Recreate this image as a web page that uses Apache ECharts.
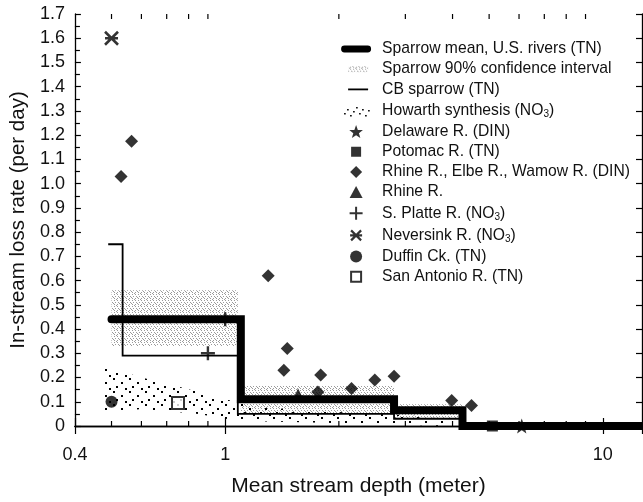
<!DOCTYPE html>
<html>
<head>
<meta charset="utf-8">
<script src="https://cdn.jsdelivr.net/npm/echarts@6/dist/echarts.min.js"></script>
<style>
  html, body { margin: 0; padding: 0; background: #fff; }
  #chart { width: 643px; height: 502px; }
</style>
</head>
<body>
<div id="chart"></div>
<script>
// Axis ranges
const depthMin = 0.4;
const depthMax = 12.7;
const rateMax = 1.7;
const xMinorTicks = [0.5, 0.6, 0.7, 0.8, 0.9, 2, 3, 4, 5, 6, 7, 8, 9];

// SPARROW mean loss rate by depth class (step function corners)
const sparrowDepth = [0.5, 1.1, 1.1, 2.8, 2.8, 4.25, 4.25, 12.7];
const sparrowRate  = [0.44, 0.44, 0.11, 0.11, 0.065, 0.065, 0, 0];

// Chesapeake Bay SPARROW (step function corners)
const cbDepth = [0.49, 0.535, 0.535, 1.08, 1.08, 2.8, 2.8, 4.25, 4.25, 12.7];
const cbRate  = [0.75, 0.75, 0.29, 0.29, 0.05, 0.05, 0.03, 0.03, 0, 0];

// 90% confidence interval of each depth class
const ciFrom = [0.5, 1.1, 2.8];
const ciTo   = [1.08, 2.8, 4.25];
const ciLow  = [0.33, 0.05, 0.03];
const ciHigh = [0.56, 0.165, 0.09];

// Envelope of the Howarth synthesis cloud
const howarthDepth = [0.48, 0.52, 0.6, 0.72, 0.85, 1.0, 1.2, 1.6, 2.2, 3.0, 3.8];
const howarthLow   = [0.05, 0.06, 0.07, 0.06, 0.05, 0.03, 0.02, 0.015, 0.01, 0.005, 0.0];
const howarthHigh  = [0.25, 0.23, 0.2, 0.17, 0.14, 0.11, 0.08, 0.065, 0.055, 0.045, 0.03];

// Individual river studies: [depth (m), loss rate (1/day)]
const delaware = [[6.1, 0]];
const potomac = [[5.1, 0]];
const rhineElbeWamow = [
  [0.53, 1.03], [0.565, 1.175], [1.30, 0.62], [1.46, 0.32], [1.43, 0.23],
  [1.79, 0.21], [1.76, 0.14], [2.16, 0.155], [2.49, 0.19], [2.8, 0.205],
  [3.98, 0.105], [4.49, 0.085]
];
const rhine = [[1.56, 0.13]];
const southPlatte = [[0.9, 0.3], [1.0, 0.44]];
const neversink = [[0.5, 1.6]];
const duffin = [[0.5, 0.1]];
const sanAntonio = [[0.75, 0.095]];

const FONT = 'Liberation Sans';

function makePattern(w, h, color, pts, size) {
  const c = document.createElement('canvas');
  c.width = w; c.height = h;
  const g = c.getContext('2d');
  g.fillStyle = color;
  pts.forEach(p => g.fillRect(p[0], p[1], size, size));
  return { image: c, repeat: 'repeat' };
}
const stipple = makePattern(6, 6, '#9a9a9a',
  [[0, 0], [3, 0], [1, 2], [4, 2], [5, 3], [0, 4], [3, 4], [2, 5]], 1);
const dotCloud = makePattern(16, 13, '#000', [[1, 1], [9, 5], [4, 9], [13, 11]], 2);

function starPath(cx, cy, R, r) {
  let s = '';
  for (let i = 0; i < 10; i++) {
    const a = -Math.PI / 2 + i * Math.PI / 5;
    const rad = i % 2 ? r : R;
    s += (i ? 'L' : 'M') + (cx + rad * Math.cos(a)).toFixed(2) + ' ' + (cy + rad * Math.sin(a)).toFixed(2);
  }
  return s + 'Z';
}

// legend icons live in a 30 x 13 box
const BOX = 'path://M0 0M30 13';
const icons = {
  mean: BOX + 'M3 3H27A3.5 3.5 0 0 1 27 10H3A3.5 3.5 0 0 1 3 3Z',
  ci: BOX + 'M7 3.5H27V9.5H7Z',
  cb: BOX + 'M7 5.7H27V7.5H7Z',
  howarth: BOX + 'M3 9h1.6v1.6h-1.6zM6 5h1.6v1.6h-1.6zM9 11h1.6v1.6h-1.6zM12 7h1.6v1.6h-1.6zM15 3h1.6v1.6h-1.6zM18 9h1.6v1.6h-1.6zM21 5h1.6v1.6h-1.6zM24 11h1.6v1.6h-1.6zM27 6h1.6v1.6h-1.6z',
  star: BOX + starPath(15, 7, 7.5, 3.1),
  square: BOX + 'M10 1.5H20V11.5H10Z',
  diamond: BOX + 'M15 0.5L21 6.5L15 12.5L9 6.5Z',
  triangle: BOX + 'M15 0.5L21.5 12.5H8.5Z',
  plus: BOX + 'M8.5 5.5H21.5V7.5H8.5ZM14 0H16V13H14Z',
  asterisk: BOX + 'M10 1.5L20 11.5M20 1.5L10 11.5M9 6.5H21',
  circle: BOX + 'M21 6.5A6 6 0 1 1 9 6.5A6 6 0 1 1 21 6.5Z',
  emptySquare: BOX + 'M10 1.5H20V11.5H10Z'
};

const pairs = (xs, ys) => xs.map((x, i) => [x, ys[i]]);
const black = { color: '#000', borderWidth: 0 };

const chart = echarts.init(document.getElementById('chart'), null, { renderer: 'canvas' });

const axisText = { fontFamily: FONT, fontSize: 18, color: '#111' };

chart.setOption({
  animation: false,
  backgroundColor: '#fff',
  grid: { left: 73, right: 1, top: 14, bottom: 68, containLabel: false },
  xAxis: [
    {
      type: 'log', logBase: 10, min: depthMin, max: depthMax, position: 'bottom',
      axisLine: { show: true, lineStyle: { color: '#000', width: 1.3 } },
      axisTick: { show: true, inside: true, length: 8, lineStyle: { color: '#000', width: 1.2 } },
      axisLabel: Object.assign({ margin: 20, showMaxLabel: false, showMinLabel: true,
        formatter: v => String(+(+v).toPrecision(3)) }, axisText),
      splitLine: { show: false },
      name: 'Mean stream depth (meter)', nameLocation: 'middle', nameGap: 50,
      nameTextStyle: { fontFamily: FONT, fontSize: 21, color: '#111' }
    },
    {
      type: 'log', logBase: 10, min: depthMin, max: depthMax, position: 'top',
      axisLine: { show: true, lineStyle: { color: '#000', width: 1.3 } },
      axisTick: { show: true, inside: true, length: 8, lineStyle: { color: '#000', width: 1.2 } },
      axisLabel: { show: false },
      splitLine: { show: false }
    }
  ],
  yAxis: [
    {
      type: 'value', min: 0, max: rateMax, interval: 0.1, position: 'left',
      axisLine: { show: true, lineStyle: { color: '#000', width: 1.3 } },
      axisTick: { show: true, inside: true, length: 6, lineStyle: { color: '#000', width: 1.2 } },
      minorTick: { show: true, splitNumber: 2, length: 5, lineStyle: { color: '#000', width: 1.2 } },
      axisLabel: Object.assign({ margin: 10, formatter: v => (v === 0 ? '0' : v.toFixed(1)) }, axisText),
      splitLine: { show: false },
      name: 'In-stream loss rate (per day)', nameLocation: 'middle', nameGap: 34,
      nameTextStyle: { fontFamily: FONT, fontSize: 20.5, color: '#111' }
    },
    {
      type: 'value', min: 0, max: rateMax, interval: 0.1, position: 'right',
      axisLine: { show: true, lineStyle: { color: '#000', width: 1.3 } },
      axisTick: { show: true, inside: true, length: 6, lineStyle: { color: '#000', width: 1.2 } },
      axisLabel: { show: false },
      splitLine: { show: false }
    }
  ],
  legend: {
    orient: 'vertical', left: 335, top: 36,
    itemWidth: 30, itemHeight: 13, itemGap: 4.15,
    symbolKeepAspect: true, selectedMode: false,
    formatter: name => name.replace('NO3', 'NO{sub|3}'),
    textStyle: {
      fontFamily: FONT, fontSize: 15.7, color: '#111', lineHeight: 13, padding: [0, 0, 0, 6],
      rich: { sub: { fontFamily: FONT, fontSize: 10, color: '#111', lineHeight: 13, padding: [8, 0, 0, 0] } }
    },
    data: [
      { name: 'Sparrow mean, U.S. rivers (TN)', icon: icons.mean, itemStyle: black },
      { name: 'Sparrow 90% confidence interval', icon: icons.ci, itemStyle: { color: stipple, borderWidth: 0 } },
      { name: 'CB sparrow (TN)', icon: icons.cb, itemStyle: black },
      { name: 'Howarth synthesis (NO3)', icon: icons.howarth, itemStyle: black },
      { name: 'Delaware R. (DIN)', icon: icons.star, itemStyle: black },
      { name: 'Potomac R. (TN)', icon: icons.square, itemStyle: black },
      { name: 'Rhine R., Elbe R., Wamow R. (DIN)', icon: icons.diamond, itemStyle: black },
      { name: 'Rhine R.', icon: icons.triangle, itemStyle: black },
      { name: 'S. Platte R. (NO3)', icon: icons.plus, itemStyle: black },
      { name: 'Neversink R. (NO3)', icon: icons.asterisk, itemStyle: { color: '#000', borderColor: '#000', borderWidth: 2.2 } },
      { name: 'Duffin Ck. (TN)', icon: icons.circle, itemStyle: black },
      { name: 'San Antonio R. (TN)', icon: icons.emptySquare, itemStyle: { color: '#fff', borderColor: '#000', borderWidth: 2 } }
    ]
  },
  series: [
    {
      name: 'Sparrow 90% confidence interval', type: 'custom', z: 1, clip: true,
      data: ciFrom.map((f, i) => [f, ciTo[i], ciLow[i], ciHigh[i]]),
      encode: { x: [0, 1], y: [2, 3] },
      itemStyle: { color: '#bbb' },
      renderItem: (params, api) => {
        const p0 = api.coord([api.value(0), api.value(3)]);
        const p1 = api.coord([api.value(1), api.value(2)]);
        return { type: 'rect', shape: { x: p0[0], y: p0[1], width: p1[0] - p0[0], height: p1[1] - p0[1] },
                 style: { fill: stipple } };
      }
    },
    {
      name: 'Howarth synthesis (NO3)', type: 'custom', z: 2, clip: true,
      data: howarthDepth.map((d, i) => [d, howarthLow[i], howarthHigh[i]]),
      encode: { x: 0, y: [1, 2] },
      itemStyle: { color: '#000' },
      renderItem: (params, api) => {
        if (params.dataIndexInside !== 0) return null;
        const top = [], bottom = [];
        for (let i = 0; i < params.dataInsideLength; i++) {
          top.push(api.coord([api.value(0, i), api.value(2, i)]));
          bottom.push(api.coord([api.value(0, i), api.value(1, i)]));
        }
        return { type: 'polygon', shape: { points: top.concat(bottom.reverse()) }, style: { fill: dotCloud } };
      }
    },
    {
      name: 'CB sparrow (TN)', type: 'line', z: 3, symbol: 'none',
      data: pairs(cbDepth, cbRate),
      lineStyle: { color: '#000', width: 1.8, join: 'miter' },
      itemStyle: { color: '#000' }
    },
    {
      name: 'Sparrow mean, U.S. rivers (TN)', type: 'line', z: 4, symbol: 'none',
      data: pairs(sparrowDepth, sparrowRate),
      lineStyle: { color: '#000', width: 8, cap: 'round', join: 'miter' },
      itemStyle: { color: '#000' }
    },
    {
      name: 'Delaware R. (DIN)', type: 'scatter', z: 6, data: delaware,
      symbol: 'path://' + starPath(0, 0, 10, 4.1), symbolSize: 15, itemStyle: { color: '#000' }
    },
    {
      name: 'Potomac R. (TN)', type: 'scatter', z: 6, data: potomac,
      symbol: 'rect', symbolSize: 11, itemStyle: { color: '#000' }
    },
    {
      name: 'Rhine R., Elbe R., Wamow R. (DIN)', type: 'scatter', z: 6, data: rhineElbeWamow,
      symbol: 'diamond', symbolSize: 13, itemStyle: { color: '#000' }
    },
    {
      name: 'Rhine R.', type: 'scatter', z: 6, data: rhine,
      symbol: 'triangle', symbolSize: 12, itemStyle: { color: '#000' }
    },
    {
      name: 'S. Platte R. (NO3)', type: 'scatter', z: 6, data: southPlatte,
      symbol: 'path://M0 5H10M5 0V10', symbolSize: 14,
      itemStyle: { color: '#000', borderColor: '#000', borderWidth: 2.4 }
    },
    {
      name: 'Neversink R. (NO3)', type: 'scatter', z: 6, data: neversink,
      symbol: 'path://M0 0L10 10M10 0L0 10M0 5H10', symbolSize: 13,
      itemStyle: { color: '#000', borderColor: '#000', borderWidth: 2.6 }
    },
    {
      name: 'Duffin Ck. (TN)', type: 'scatter', z: 6, data: duffin,
      symbol: 'circle', symbolSize: 12, itemStyle: { color: '#000' }
    },
    {
      name: 'San Antonio R. (TN)', type: 'scatter', z: 6, data: sanAntonio,
      symbol: 'rect', symbolSize: 12, itemStyle: { color: '#fff', borderColor: '#000', borderWidth: 2 }
    },
    {
      // minor log ticks on the bottom and top frame
      type: 'custom', z: 7, silent: true, clip: false,
      data: xMinorTicks.map(v => [v, 0]),
      encode: { x: 0, y: 1 },
      renderItem: (params, api) => {
        const b = api.coord([api.value(0), 0]);
        const t = api.coord([api.value(0), rateMax]);
        const st = { stroke: '#000', lineWidth: 1.2 };
        return { type: 'group', children: [
          { type: 'line', shape: { x1: b[0], y1: b[1], x2: b[0], y2: b[1] - 5 }, style: st },
          { type: 'line', shape: { x1: t[0], y1: t[1], x2: t[0], y2: t[1] + 5 }, style: st }
        ] };
      }
    }
  ]
});
</script>
</body>
</html>
